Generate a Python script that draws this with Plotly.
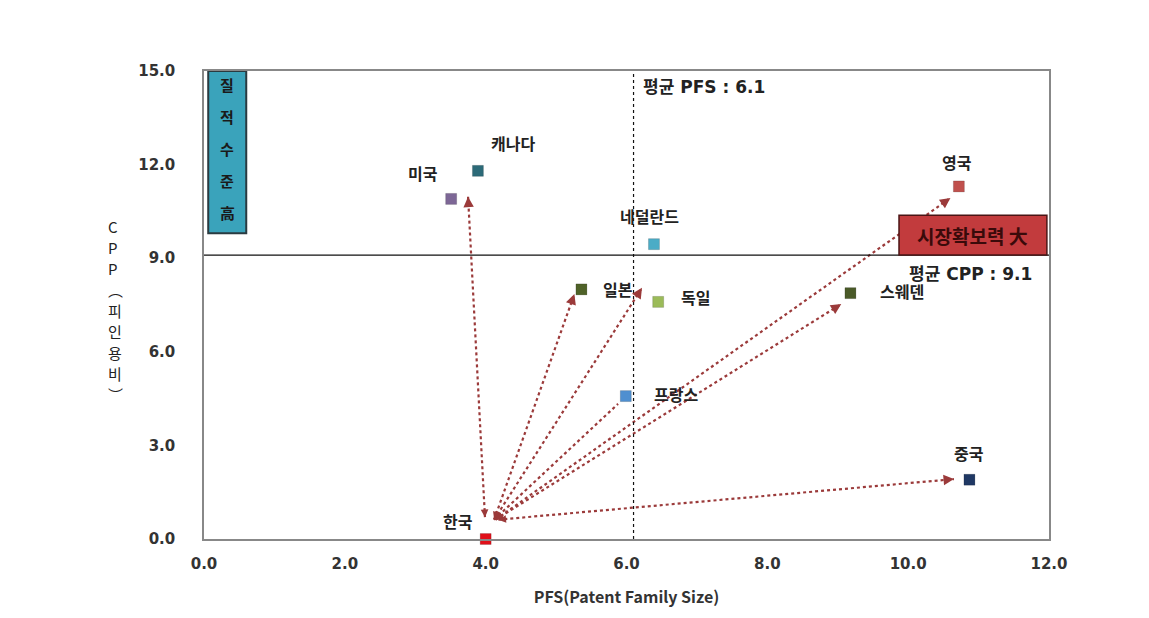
import plotly.graph_objects as go

countries = ["한국", "미국", "캐나다", "네덜란드", "일본", "독일", "프랑스", "스웨덴", "영국", "중국"]
pfs = [4.0, 3.51, 3.89, 6.39, 5.36, 6.45, 5.99, 9.18, 10.72, 10.87]
cpp = [0.0, 10.9, 11.8, 9.45, 8.0, 7.6, 4.58, 7.88, 11.3, 1.9]
colors = ["#e0101a", "#7d6796", "#2c6a78", "#4bacc6", "#4f6228", "#9bbb59", "#4f8fd0", "#4a5a28", "#c0504d", "#1f3864"]

# label offsets in px relative to marker
label_dx = [-28, -28, 35, -4, 37, 37, 50, 52, -2, 0]
label_dy = [-18, -26, -28, -28, 0, -5, -2, -2, -24, -27]

# arrows: start -> end (data coords)
arrow_start_x = [3.99, 4.12, 4.12, 4.12, 4.14, 4.14, 4.18]
arrow_start_y = [0.70, 0.62, 0.62, 0.62, 0.62, 0.62, 0.62]
arrow_end_x = [3.75, 5.26, 6.22, 5.88, 9.05, 10.60, 10.65]
arrow_end_y = [10.97, 7.85, 8.05, 4.33, 7.53, 10.93, 1.92]

mean_pfs = 6.1
mean_cpp = 9.1

x_ticks = [0, 2, 4, 6, 8, 10, 12]
y_ticks = [0, 3, 6, 9, 12, 15]

box_chars = ["질", "적", "수", "준", "高"]
ytitle_chars = ["C", "P", "P", "︵", "피", "인", "용", "비", "︶"]

font = "Noto Sans CJK KR"
wide_font = "DejaVu Sans, Noto Sans CJK KR"
arrow_col = "#9b3a3a"

fig = go.Figure()

for sx, sy, ex, ey in zip(arrow_start_x, arrow_start_y, arrow_end_x, arrow_end_y):
    fig.add_trace(go.Scatter(x=[sx, ex], y=[sy, ey], mode="lines",
                             line=dict(color=arrow_col, width=2.2, dash="dot"),
                             hoverinfo="skip", showlegend=False, cliponaxis=False))

fig.add_shape(type="line", xref="x", yref="paper", x0=mean_pfs, x1=mean_pfs, y0=0, y1=1,
              line=dict(color="#111", width=1.2, dash="dot"))
fig.add_shape(type="line", xref="paper", yref="y", x0=0, x1=1, y0=mean_cpp, y1=mean_cpp,
              line=dict(color="#111", width=1.2))

fig.add_trace(go.Scatter(x=pfs, y=cpp, mode="markers",
                         marker=dict(symbol="square", size=11, color=colors,
                                     line=dict(color="rgba(0,0,0,0.15)", width=1)),
                         showlegend=False, cliponaxis=False, hoverinfo="text", text=countries))

annotations = []
for name, x, y, dx, dy in zip(countries, pfs, cpp, label_dx, label_dy):
    annotations.append(dict(x=x, y=y, xref="x", yref="y", text=f"<b>{name}</b>", showarrow=False,
                            xshift=dx, yshift=-dy, font=dict(family=font, size=16, color="#222")))

for sx, sy, ex, ey in zip(arrow_start_x, arrow_start_y, arrow_end_x, arrow_end_y):
    dx, dy = ex - sx, ey - sy
    annotations.append(dict(x=ex, y=ey, ax=ex - 0.02 * dx, ay=ey - 0.02 * dy,
                            xref="x", yref="y", axref="x", ayref="y", text="",
                            showarrow=True, arrowhead=2, arrowsize=1.3, arrowwidth=1.6,
                            arrowcolor=arrow_col))
    annotations.append(dict(x=sx, y=sy, ax=sx + 0.02 * dx, ay=sy + 0.02 * dy,
                            xref="x", yref="y", axref="x", ayref="y", text="",
                            showarrow=True, arrowhead=2, arrowsize=1.1, arrowwidth=1.4,
                            arrowcolor=arrow_col))

# 질적수준 box
fig.add_shape(type="rect", xref="x", yref="y", x0=0.06, x1=0.6, y0=9.8, y1=15.0,
              fillcolor="#3aa3bb", line=dict(color="#2a3a40", width=2), layer="above")
for i, ch in enumerate(box_chars):
    annotations.append(dict(x=0.33, y=0.972, xref="x", yref="paper", showarrow=False,
                            yanchor="middle", yshift=-i * 32, text=f"<b>{ch}</b>",
                            font=dict(family=font, size=15, color="#1a1a1a")))

fig.add_shape(type="rect", xref="x", yref="y", x0=9.87, x1=11.97, y0=9.1, y1=10.38,
              fillcolor="#c23b3d", line=dict(color="#4a1515", width=1.5), layer="above")
annotations.append(dict(x=10.92, y=9.74, xref="x", yref="y", showarrow=False,
                        text="<b>시장확보력 大</b>",
                        font=dict(family=font, size=19, color="#3a0a0a")))

annotations.append(dict(x=6.2, y=14.5, xref="x", yref="y", xanchor="left", showarrow=False,
                        text="<b>평균 PFS : 6.1</b>", font=dict(family=wide_font, size=17, color="#222")))
annotations.append(dict(x=9.98, y=8.5, xref="x", yref="y", xanchor="left", showarrow=False,
                        text="<b>평균 CPP : 9.1</b>", font=dict(family=wide_font, size=17, color="#222")))

for i, ch in enumerate(ytitle_chars):
    annotations.append(dict(x=-0.116, y=0.668, xref="paper", yref="paper", showarrow=False,
                            yanchor="middle", yshift=-i * 21, text=ch,
                            font=dict(family=font, size=15, color="#222")))

fig.update_layout(
    width=1149, height=618,
    margin=dict(l=196, r=108, t=63, b=87),
    paper_bgcolor="white", plot_bgcolor="white",
    annotations=annotations,
    xaxis=dict(range=[0, 12], tickvals=x_ticks, ticktext=[f"<b>{v:.1f}</b>" for v in x_ticks],
               showgrid=False, zeroline=False, showline=True, linecolor="#888", linewidth=1.5,
               mirror=True, ticks="", ticklabelstandoff=10,
               tickfont=dict(family="DejaVu Sans", size=15, color="#333"),
               title=dict(text="<b>PFS(Patent Family Size)</b>", font=dict(family=font, size=16, color="#333"),
                          standoff=20)),
    yaxis=dict(range=[0, 15], tickvals=y_ticks, ticktext=[f"<b>{v:.1f}</b>" for v in y_ticks],
               showgrid=False, zeroline=False, showline=True, linecolor="#888", linewidth=1.5,
               mirror=True, ticks="", ticklabelstandoff=24,
               tickfont=dict(family="DejaVu Sans", size=15, color="#333")),
)

fig.write_html("out.html")
